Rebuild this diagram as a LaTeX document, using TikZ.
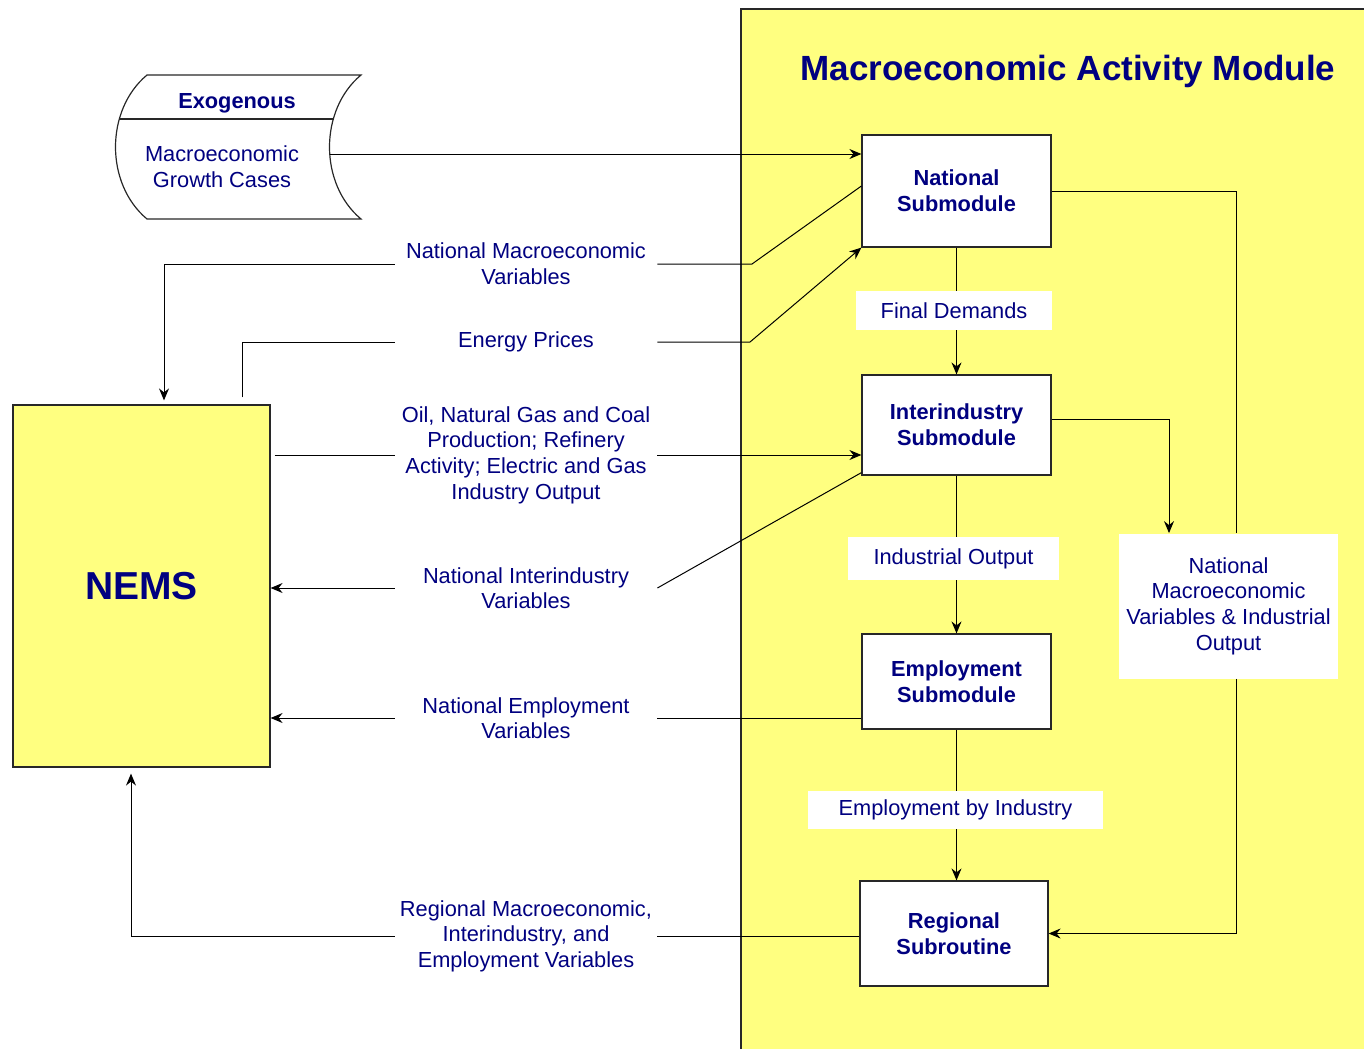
\documentclass[tikz,border=0pt]{standalone}
\usepackage{fontspec}
\setmainfont{Liberation Sans}
\usetikzlibrary{arrows.meta}
\definecolor{navy}{RGB}{0,0,128}
\definecolor{modyel}{RGB}{255,255,128}
\definecolor{lin}{RGB}{40,40,40}
\begin{document}
\begin{tikzpicture}[x=0.5pt,y=-0.5pt,
 every node/.style={text=navy, font=\fontsize{10.9}{12.8}\selectfont, align=center, inner sep=0pt},
 box/.style={draw=lin, line width=0.6pt, fill=white, font=\fontsize{10.9}{12.8}\selectfont\bfseries},
 lab/.style={minimum width=131pt},
 wlab/.style={fill=white},
 con/.style={draw=black, line width=0.5pt},
 arr/.style={con, -{Stealth[length=6pt,width=5pt,inset=2pt]}}
]
\useasboundingbox (0,0) rectangle (1364,1049);
% module background
\fill[modyel] (741,9) rectangle (1364,1049);
\draw[lin, line width=0.6pt] (741,1049) -- (741,9) -- (1364,9);
\node[font=\fontsize{17.5}{20}\selectfont\bfseries] (title) at (1068,71) {Macroeconomic Activity Module};

% exogenous stored-data shape
\draw[lin, line width=0.6pt, fill=white] (147,75) -- (361,75) .. controls (319,110) and (319,184) .. (361,219) -- (147,219) .. controls (105,184) and (105,110) .. (147,75) -- cycle;
\draw[lin, line width=0.6pt] (119,119) -- (333,119);
\node[font=\fontsize{10.9}{12.8}\selectfont\bfseries] (exot) at (237,103) {Exogenous};
\node (exo) at (222,167) {Macroeconomic\\Growth Cases};
\coordinate (exoR) at (330,154);

% NEMS
\node[draw=lin, line width=0.6pt, fill=modyel, minimum width=128.5pt, minimum height=181pt, font=\fontsize{19.5}{22}\selectfont\bfseries] (nems) at (141.5,586) {NEMS};

% submodules
\node[box, minimum width=94.5pt, minimum height=56pt] (nat) at (956.5,191) {National\\Submodule};
\node[box, minimum width=94.5pt, minimum height=50pt] (inter) at (956.5,425) {Interindustry\\Submodule};
\node[box, minimum width=94.5pt, minimum height=47.5pt] (emp) at (956.5,681.5) {Employment\\Submodule};
\node[box, minimum width=94pt, minimum height=52.5pt] (reg) at (954,933.5) {Regional\\Subroutine};

% labels inside module
\node[wlab, minimum width=98pt, minimum height=19.5pt] (fd) at (954,310.5) {Final Demands};
\node[wlab, minimum width=105.5pt, minimum height=21.5pt] (io) at (953.5,558.5) {Industrial Output};
\node[wlab, minimum width=147.5pt, minimum height=19pt] (ebi) at (955.5,810) {Employment by Industry};
\node[wlab, minimum width=109.5pt, minimum height=72.5pt] (big) at (1228.5,606) {National\\Macroeconomic\\Variables \& Industrial\\Output};

% labels on the left
\node[lab] (lnm) at (526,264) {National Macroeconomic\\Variables};
\node[lab] (lep) at (526,342) {Energy Prices};
\node[lab] (loil) at (526,455) {Oil, Natural Gas and Coal\\Production; Refinery\\Activity; Electric and Gas\\Industry Output};
\node[lab] (lii) at (526,588) {National Interindustry\\Variables};
\node[lab] (lev) at (526,718) {National Employment\\Variables};
\node[lab] (lrv) at (526,936) {Regional Macroeconomic,\\Interindustry, and\\Employment Variables};

% connectors
\draw[arr] (exoR) -- (exoR -| nat.west);

\draw[con] ([yshift=2.5pt]nat.west) -- (752,264) -- (lnm.east);
\draw[arr, shorten >=2pt] (lnm.west) -| ([xshift=11.25pt]nems.north);

\draw[con, shorten <=3.5pt] ([xshift=50.25pt]nems.north) |- (lep.west);
\draw[arr] (lep.east) -- (750,342) -- (nat.south west);

\draw[con, shorten <=2pt] (loil.west -| nems.east) -- (loil.west);
\draw[arr] (loil.east) -- (loil.east -| inter.west);

\draw[con] ([yshift=1.5pt]inter.south west) -- (lii.east);
\draw[arr] (lii.west) -- (lii.west -| nems.east);

\draw[con] (lev.east -| emp.west) -- (lev.east);
\draw[arr] (lev.west) -- (lev.west -| nems.east);

\draw[con] (lrv.east -| reg.west) -- (lrv.east);
\draw[arr, shorten >=3pt] (lrv.west) -| ([xshift=-5.25pt]nems.south);

\draw[con] (nat.south) -- (nat.south |- fd.north);
\draw[arr] (nat.south |- fd.south) -- (inter.north);
\draw[con] (inter.south) -- (inter.south |- io.north);
\draw[arr] (inter.south |- io.south) -- (emp.north);
\draw[con] (emp.south) -- (emp.south |- ebi.north);
\draw[arr] (emp.south |- ebi.south) -- (emp.south |- reg.north);

\coordinate (rx) at (1236,0);
\draw[con] (nat.east) -- (nat.east -| rx) -- (rx |- big.north);
\draw[arr] (rx |- big.south) |- (reg.east);
\coordinate (ix) at (1169,0);
\draw[arr] ([yshift=3pt]inter.east) -| (ix |- big.north);
\end{tikzpicture}
\end{document}
